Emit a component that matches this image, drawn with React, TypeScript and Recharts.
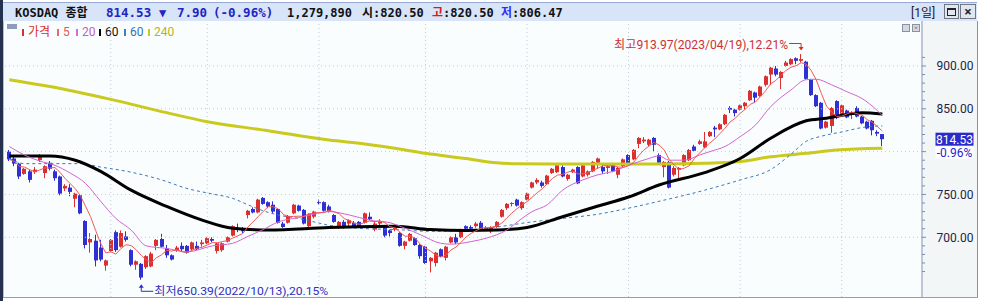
import { ComposedChart, Bar, Line, XAxis, YAxis, ReferenceLine, ReferenceDot } from "recharts";

const UP = "#dc2f2f";
const DOWN = "#2f2fd2";
const MONO = '"DejaVu Sans Mono", "Noto Sans CJK KR", monospace';
const SANS = 'Roboto, "Noto Sans CJK KR", sans-serif';

// daily candles 2022/09 ~ 2023/05 : [open, high, low, close]
const candles: number[][] = [
  [800, 802, 789, 791], [792, 794, 783, 786], [786, 787, 768, 771], [774, 781, 773, 780], [777, 779, 764, 767],
  [776, 782, 774, 779], [790, 797, 788, 796], [775, 784, 769, 783], [787, 789, 778, 780], [777, 779, 766, 769],
  [771, 772, 749, 751], [757, 762, 754, 760], [758, 762, 748, 753], [745, 752, 735, 751], [749, 750, 727, 728],
  [719, 720, 687, 691], [694, 705, 682, 698], [696, 703, 666, 673], [688, 697, 672, 674], [667, 674, 661, 673],
  [684, 698, 683, 697], [706, 708, 683, 685], [689, 708, 688, 705], [701, 707, 695, 697], [685, 686, 666, 668],
  [668, 673, 662, 672], [669, 670, 650.39, 653], [665, 679, 663, 678], [666, 683, 665, 681], [690, 698, 685, 697],
  [698, 704, 688, 689], [687, 691, 676, 679], [679, 680, 673, 674], [685, 690, 683, 688], [690, 694, 684, 686],
  [690, 691, 681, 682], [686, 695, 685, 694], [690, 695, 685, 686], [692, 697, 689, 694], [693, 700, 692, 699],
  [698, 700, 694, 696], [684, 694, 681, 693], [685, 694, 683, 693], [695, 701, 694, 700], [702, 714, 701, 713],
  [711, 716, 706, 709], [710, 712, 705, 707], [726, 732, 722, 731], [733, 735, 728, 729], [729, 745, 728, 744],
  [746, 747, 738, 739], [741, 742, 734, 736], [738, 742, 728, 730], [733, 734, 716, 717], [716, 718, 711, 712],
  [717, 726, 716, 725], [728, 739, 727, 738], [737, 738, 730, 731], [732, 733, 715, 716], [713, 728, 711, 727],
  [724, 731, 722, 730], [741, 744, 738, 740], [741, 742, 730, 731], [736, 738, 729, 730], [726, 727, 717, 718],
  [713, 719, 710, 718], [718, 720, 710, 712], [716, 721, 712, 720], [717, 719, 712, 713], [718, 719, 711, 713],
  [717, 729, 716, 728], [724, 729, 720, 721], [709, 719, 707, 716], [716, 721, 714, 718], [713, 714, 700, 702],
  [708, 709, 701, 705], [709, 715, 707, 714], [705, 706, 689, 690], [690, 696, 686, 695], [696, 705, 695, 704],
  [699, 700, 690, 691], [691, 692, 675, 678], [689, 690, 669, 670], [672, 677, 659, 676], [670, 683, 666, 682],
  [686, 687, 677, 678], [676, 690, 673, 689], [694, 701, 693, 700], [700, 704, 692, 694], [700, 710, 699, 709],
  [713, 714, 709, 710], [712, 714, 707, 710], [713, 718, 711, 716], [717, 719, 708, 709], [710, 713, 708, 711],
  [707, 713, 705, 712], [712, 719, 711, 718], [724, 733, 723, 732], [734, 740, 732, 739], [739, 741, 736, 740],
  [744, 745, 736, 737], [734, 742, 732, 741], [744, 752, 743, 751], [758, 765, 757, 764], [764, 769, 762, 767],
  [764, 766, 758, 760], [762, 773, 761, 772], [775, 781, 774, 780], [776, 785, 775, 784], [782, 784, 770, 771],
  [768, 774, 766, 773], [776, 780, 775, 779], [782, 783, 762, 763], [771, 785, 770, 784], [773, 778, 771, 777],
  [777, 789, 776, 788], [787, 793, 780, 792], [782, 786, 774, 777], [781, 784, 774, 783], [784, 785, 776, 777],
  [773, 782, 769, 781], [783, 792, 782, 791], [796, 797, 785, 786], [791, 803, 790, 802], [809, 817, 804, 816],
  [812, 817, 810, 814], [808, 815, 806, 814], [816, 817, 800, 808], [796, 798, 785, 787], [782, 789, 770, 788],
  [788, 789, 757, 758], [773, 783, 771, 781], [779, 782, 767, 781], [784, 797, 783, 796], [790, 803, 789, 802],
  [806, 808, 800, 801], [809, 814, 808, 812], [805, 823, 804, 812], [818, 824, 817, 823], [828, 830, 817, 826],
  [826, 833, 825, 832], [832, 844, 831, 843], [851, 853, 845, 849], [849, 850, 841, 845], [849, 855, 848, 854],
  [853, 858, 849, 857], [860, 872, 859, 871], [869, 870, 857, 863], [865, 877, 864, 876], [878, 889, 876, 888],
  [890, 899, 878, 898], [897, 900, 888, 890], [886, 894, 873, 893], [900, 906, 899, 904], [902, 909, 901, 908],
  [909, 910, 902, 906], [906, 913.97, 904, 908], [905, 906, 884, 885], [884, 885, 865, 866], [866, 867, 852, 853],
  [857, 858, 826, 827], [828, 836, 827, 835], [830, 852, 822, 851], [859, 860, 838, 840], [843, 855, 842, 854],
  [848, 849, 839, 840], [843, 847, 838, 846], [851, 853, 840, 841], [841, 842, 832, 833], [835, 836, 826, 827],
  [836, 837, 819, 825], [823, 825, 818, 821], [820.5, 820.5, 806.47, 814.53],
];

// first trading day of each month (Oct ~ May)
const monthStarts = [20, 39, 61, 82, 102, 122, 144, 164];
const gridPrices = [700, 750, 800, 850, 900];
const axisTicks = [660, 670, 680, 690, 700, 710, 720, 730, 740, 750, 760, 770, 780, 790, 800, 810, 820, 830, 840, 850, 860, 870, 880, 890, 900, 910];
const lastClose = 814.53;
const changeText = "-0.96%";

// moving averages: [day index, value]
const ma20Pts: number[][] = [
  [0, 806], [3, 796], [6, 789], [9, 784], [12, 775], [15, 763], [18, 742], [21, 722], [24, 708.5], [27, 690],
  [31, 687], [35, 683], [40, 690], [44, 693], [47, 701], [50, 709], [53, 718], [57, 723], [60, 727], [63, 730],
  [67, 726], [69, 723], [71, 720], [75, 717], [78, 710.5], [81, 703], [85, 693], [87, 692], [91, 695], [94, 699],
  [98, 708.5], [101, 722], [103, 730], [106, 738], [109, 755], [113, 767], [116, 773], [119, 777], [122, 784],
  [126, 792], [128, 795], [130, 790], [133, 790], [136, 796], [138, 800], [141, 806], [144, 817.5], [147, 831],
  [150, 852.5], [154, 872], [157, 884], [159, 884.5], [162, 878], [165, 870], [168, 862], [171, 848], [172, 842],
];
const ma60Pts: number[][] = [
  [0, 795], [8, 795], [13, 790], [18, 777], [24, 755], [31, 736], [38, 720], [44, 710.5], [51, 708.5], [63, 711.5],
  [76, 713], [83, 709], [90, 708], [96, 708.5], [102, 711.5], [109, 724], [116, 736.5], [122, 747], [128, 761],
  [137, 775.5], [144, 792], [150, 815.6], [157, 836], [161, 839], [168, 845.5], [172, 844],
];
const ma120Pts: number[][] = [
  [0, 792], [3, 786], [14, 786], [18, 782], [24, 776], [30, 767], [35, 757], [40, 750.6], [44, 745.5], [47, 738],
  [50, 731], [53, 726], [57, 722], [60, 718], [63, 714], [69, 710.5], [76, 709], [83, 707], [90, 708.5], [96, 712],
  [103, 718], [109, 722], [116, 727], [122, 734], [128, 742], [137, 755], [144, 767], [150, 779], [154, 797],
  [157, 812], [160, 818], [164, 823], [169, 829], [172, 830],
];
const ma240Pts: number[][] = [
  [0, 884], [8, 876], [20, 861], [31, 845.5], [39, 835], [51, 824.5], [63, 813.5], [70, 809], [76, 804], [82, 798],
  [90, 792], [96, 787], [100, 786], [109, 785.5], [128, 785.6], [137, 786.4], [144, 788.5], [150, 794], [157, 798],
  [163, 802], [172, 804],
];

const closes = candles.map((c) => c[3]);
const movingAvg = (vals: number[], n: number) =>
  vals.map((_, i) => {
    const s = vals.slice(Math.max(0, i - n + 1), i + 1);
    return s.reduce((a, b) => a + b, 0) / s.length;
  });
const ma5 = movingAvg(closes, 5);
const lookup = (pts: number[][]) => new Map(pts.map((p) => [p[0], p[1]] as [number, number]));
const m20 = lookup(ma20Pts);
const m60 = lookup(ma60Pts);
const m120 = lookup(ma120Pts);
const m240 = lookup(ma240Pts);

const data = candles.map(([o, h, l, c], i) => ({
  i, o, h, l, c,
  range: [l, h],
  ma5: ma5[i],
  ma20: m20.get(i) ?? null,
  ma60: m60.get(i) ?? null,
  ma120: m120.get(i) ?? null,
  ma240: m240.get(i) ?? null,
}));

function Candle(props: any) {
  const { x, y, width, height, payload } = props;
  if (x == null || y == null) return null;
  const { o, h, l, c } = payload;
  const top = Math.min(y, y + height);
  const bot = Math.max(y, y + height);
  const k = (bot - top) / (h - l);
  const yo = top + (h - o) * k;
  const yc = top + (h - c) * k;
  const color = c >= o ? UP : DOWN;
  const left = Math.round(x + width / 2 - 2);
  const bTop = Math.min(yo, yc);
  const bH = Math.max(Math.abs(yc - yo), 1);
  return (
    <g>
      <line x1={left + 1.5} x2={left + 1.5} y1={top} y2={bot} stroke={color} strokeWidth={1} />
      <rect x={left} y={bTop} width={4} height={bH} fill={color} />
    </g>
  );
}

function PriceTick(props: any) {
  const { x, y, payload } = props;
  const v = payload.value;
  if (v === lastClose) {
    return (
      <g>
        <rect x={x + 13.5} y={y - 6.5} width={38} height={13} fill="#2b2bc9" />
        <text x={x + 32.5} y={y + 4.5} textAnchor="middle" fill="#ffffff" fontSize={12} fontFamily={SANS}>
          {lastClose.toFixed(2)}
        </text>
        <rect x={x + 13.5} y={y + 7.5} width={38} height={12} fill="#ffffff" />
        <text x={x + 32.5} y={y + 17.5} textAnchor="middle" fill="#2424d0" fontSize={12} fontFamily={SANS}>
          {changeText}
        </text>
      </g>
    );
  }
  const major = v % 50 === 0;
  return (
    <g>
      <line x1={x} x2={x + (major ? 4 : 3)} y1={y} y2={y} stroke="#7c8cb0" />
      {major && v !== 800 && (
        <text x={x + 14.5} y={y + 4.5} fill="#1c2448" fontSize={12} fontFamily={SANS}>
          {v.toFixed(2)}
        </text>
      )}
    </g>
  );
}

function HighMark(props: any) {
  const { cx, cy } = props;
  return (
    <g>
      <text x={cx - 187} y={cy - 5} fill="#d03030" fontSize={12} fontFamily={SANS} textLength={174} lengthAdjust="spacingAndGlyphs">
        최고913.97(2023/04/19),12.21%
      </text>
      <path d={`M${cx - 12},${cy - 10.5} H${cx} V${cy - 6}`} stroke="#d03030" fill="none" />
      <path d={`M${cx - 2.5},${cy - 7} L${cx + 2.5},${cy - 7} L${cx},${cy - 3.5} Z`} fill="#d03030" />
    </g>
  );
}

function LowMark(props: any) {
  const { cx, cy } = props;
  return (
    <g>
      <path d={`M${cx},${cy + 7} V${cy + 11.5} H${cx + 12}`} stroke="#2e2ebe" fill="none" />
      <path d={`M${cx - 2.5},${cy + 8} L${cx + 2.5},${cy + 8} L${cx},${cy + 4.5} Z`} fill="#2e2ebe" />
      <text x={cx + 13} y={cy + 15.5} fill="#2e2ebe" fontSize={11.5} fontFamily={SANS} textLength={174} lengthAdjust="spacingAndGlyphs">
        최저650.39(2022/10/13),20.15%
      </text>
    </g>
  );
}

const abs = (style: any) => ({ position: "absolute" as const, ...style });

function LegendItem({ left, bar, color, label }: { left: number; bar: string; color: string; label: string }) {
  return (
    <div style={abs({ left, top: 24, height: 16, display: "flex", alignItems: "center" })}>
      <div style={{ width: 2, height: 7, background: bar, marginRight: 4 }} />
      <span style={{ color, fontSize: 12, fontFamily: SANS, lineHeight: "16px" }}>{label}</span>
    </div>
  );
}

export default function App() {
  return (
    <div style={abs({ left: 0, top: 0, width: 981, height: 301, background: "#ffffff", overflow: "hidden" })}>
      <style>{`.recharts-surface{overflow:visible}`}</style>
      {/* window frame */}
      <div style={abs({ left: 0, top: 0, width: 3, height: 301, background: "#24314f" })} />
      <div style={abs({ left: 3, top: 2, width: 974, height: 18, background: "#d8e4f8", borderTop: "1px solid #95a9d2", borderBottom: "1px solid #a9b9d9" })} />
      <div style={abs({ left: 3, top: 21, width: 920, height: 276, background: "#fafdfd", borderLeft: "1px solid #a9c0e0" })} />
      <div style={abs({ left: 923, top: 21, width: 54, height: 276, background: "#f2f6f6", borderRight: "1px solid #8292b4" })} />
      <div style={abs({ left: 3, top: 297, width: 975, height: 1, background: "#8e9ec2" })} />

      {/* title bar */}
      <div style={abs({ left: 15, top: 4, lineHeight: "18px", fontFamily: MONO, fontWeight: 700, fontSize: 12, color: "#111" })}>KOSDAQ 종합</div>
      <div style={abs({ left: 106, top: 4, lineHeight: "18px", fontFamily: MONO, fontWeight: 700, fontSize: 12.5, color: "#2323c4" })}>814.53</div>
      <div style={abs({ left: 159, top: 4, lineHeight: "18px", fontFamily: MONO, fontWeight: 700, fontSize: 12, color: "#2323c4" })}>▼</div>
      <div style={abs({ left: 177, top: 4, lineHeight: "18px", fontFamily: MONO, fontWeight: 700, fontSize: 12.5, color: "#2323c4" })}>7.90</div>
      <div style={abs({ left: 213, top: 4, lineHeight: "18px", fontFamily: MONO, fontWeight: 700, fontSize: 12.5, color: "#2323c4" })}>(-0.96%)</div>
      <div style={abs({ left: 287, top: 4, lineHeight: "18px", fontFamily: MONO, fontWeight: 700, fontSize: 12, color: "#111" })}>1,279,890</div>
      <div style={abs({ left: 362, top: 4, lineHeight: "18px", fontFamily: MONO, fontWeight: 700, fontSize: 12, color: "#111" })}>시:820.50</div>
      <div style={abs({ left: 432, top: 4, lineHeight: "18px", fontFamily: MONO, fontWeight: 700, fontSize: 12, color: "#111" })}>
        <span style={{ color: "#e01818" }}>고</span>:820.50
      </div>
      <div style={abs({ left: 501, top: 4, lineHeight: "18px", fontFamily: MONO, fontWeight: 700, fontSize: 12, color: "#111" })}>
        <span style={{ color: "#3030f0" }}>저</span>:806.47
      </div>
      <div style={abs({ left: 911, top: 4, lineHeight: "18px", fontFamily: SANS, fontSize: 12, color: "#222" })}>[1일]</div>
      <div style={abs({ left: 944, top: 4, width: 13, height: 13, background: "#e2e6ee", border: "1px solid #6f7784", display: "flex", alignItems: "center", justifyContent: "center" })}>
        <div style={{ width: 7, height: 5, border: "1px solid #222", borderTopWidth: 2 }} />
      </div>
      <div style={abs({ left: 960, top: 4, width: 14, height: 13, background: "#e2e6ee", border: "1px solid #6f7784", display: "flex", alignItems: "center", justifyContent: "center", fontFamily: SANS, fontWeight: 700, fontSize: 13, color: "#222" })}>×</div>

      {/* legend */}
      <div style={abs({ left: 7, top: 24, width: 10, height: 5, background: "#8c9cc0" })} />
      <LegendItem left={22} bar="#d83030" color="#d83030" label="가격" />
      <LegendItem left={57} bar="#e86a6a" color="#e05a5a" label="5" />
      <LegendItem left={76} bar="#d070d0" color="#c45ec4" label="20" />
      <LegendItem left={99} bar="#000000" color="#111111" label="60" />
      <LegendItem left={124} bar="#4080c0" color="#3372b2" label="60" />
      <LegendItem left={148} bar="#c8c820" color="#b4b41c" label="240" />
      <div style={abs({ left: 902, top: 24, width: 6, height: 6, background: "#d4d8e0", border: "1px solid #8a92a2" })} />
      <div style={abs({ left: 912, top: 24, width: 6, height: 6, background: "#d4d8e0", border: "1px solid #8a92a2", fontSize: 7, lineHeight: "6px", textAlign: "center", color: "#333" })}>×</div>

      {/* chart */}
      <div style={abs({ left: 4, top: 21 })}>
        <ComposedChart width={973} height={276} data={data} margin={{ top: 0, right: 0, bottom: 0, left: 0 }}>
          <XAxis type="number" dataKey="i" domain={[-1.044, 179.82]} hide allowDataOverflow />
          <YAxis
            orientation="right"
            type="number"
            domain={[630.3, 952.5]}
            allowDataOverflow
            width={55}
            ticks={[...axisTicks, lastClose]}
            interval={0}
            tickSize={0}
            tickMargin={0}
            tickLine={false}
            axisLine={{ stroke: "#8090b2" }}
            tick={<PriceTick />}
          />
          {gridPrices.map((p) => (
            <ReferenceLine key={"h" + p} y={p} stroke="#c2cad4" strokeDasharray="1 3" />
          ))}
          {monthStarts.map((m) => (
            <ReferenceLine key={"v" + m} x={m} stroke="#c2cad4" strokeDasharray="1 3" />
          ))}
          <Line dataKey="ma240" type="monotone" stroke="#c9c91e" strokeWidth={3} dot={false} connectNulls isAnimationActive={false} />
          <Line dataKey="ma120" type="monotone" stroke="#3a78b8" strokeWidth={1} strokeDasharray="3 3" dot={false} connectNulls isAnimationActive={false} />
          <Line dataKey="ma60" type="monotone" stroke="#000000" strokeWidth={3} dot={false} connectNulls isAnimationActive={false} />
          <Bar dataKey="range" shape={<Candle />} isAnimationActive={false} />
          <Line dataKey="ma20" type="monotone" stroke="#d264d2" strokeWidth={1} dot={false} connectNulls isAnimationActive={false} />
          <Line dataKey="ma5" type="linear" stroke="#f05a5a" strokeWidth={1} dot={false} isAnimationActive={false} />
          <ReferenceDot x={156} y={913.97} r={0} shape={<HighMark />} />
          <ReferenceDot x={26} y={650.39} r={0} shape={<LowMark />} />
        </ComposedChart>
      </div>
    </div>
  );
}
